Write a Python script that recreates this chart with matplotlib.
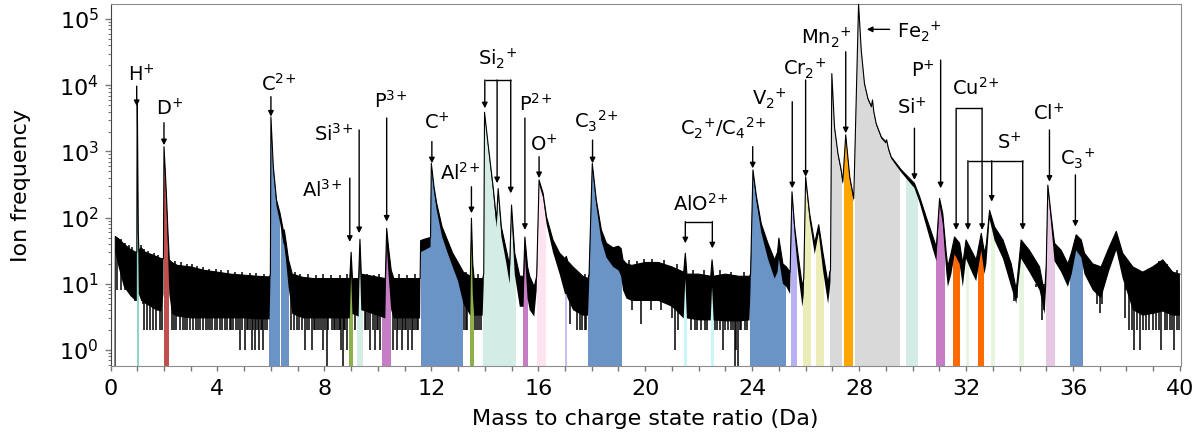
import numpy as np
import matplotlib
matplotlib.use("Agg")
import matplotlib.pyplot as plt
from matplotlib.patches import Polygon
from matplotlib.ticker import LogLocator, MultipleLocator, NullFormatter
from matplotlib.transforms import blended_transform_factory

plt.rcParams["font.family"] = ["DejaVu Sans"]
plt.rcParams["mathtext.fontset"] = "dejavusans"

# ---------------------------------------------------------------------------
# Mass spectrum: mass-to-charge (Da) with the upper and lower edge of the
# noisy count trace (ion counts per bin)
# ---------------------------------------------------------------------------
mass_da = [
    0.17, 0.18, 0.3, 0.5, 0.75, 0.95, 0.985, 0.995, 1.005, 1.02, 1.04, 1.06,
    1.15, 1.3, 1.5, 1.7, 1.9, 1.98, 2.0, 2.05, 2.1, 2.15, 2.2, 2.3, 2.5, 3.0,
    3.5, 4.0, 4.5, 5.0, 5.5, 5.95, 5.98, 6.0, 6.04, 6.09, 6.21, 6.34, 6.46,
    6.5, 6.56, 6.66, 6.8, 7.2, 7.6, 8.0, 8.5, 8.95, 9.0, 9.05, 9.28, 9.33,
    9.38, 10.28, 10.33, 10.4, 10.5, 10.6, 11.0, 11.58, 11.6, 11.8, 11.97,
    12.0, 12.1, 12.2, 12.4, 12.6, 12.8, 13.0, 13.2, 13.46, 13.5, 13.55, 13.6,
    13.92, 13.96, 13.99, 14.12, 14.31, 14.44, 14.5, 14.62, 14.81, 14.93, 15.0,
    15.12, 15.31, 15.45, 15.5, 15.6, 15.68, 15.85, 15.94, 16.03, 16.18, 16.31,
    16.55, 16.8, 17.0, 17.05, 17.1, 17.3, 17.67, 17.86, 17.9, 18.02, 18.17,
    18.36, 18.55, 18.8, 19.0, 19.1, 19.17, 19.3, 19.5, 20.0, 20.5, 21.0,
    21.44, 21.5, 21.56, 22.0, 22.45, 22.5, 22.56, 23.0, 23.5, 23.9, 23.94,
    24.03, 24.16, 24.34, 24.59, 24.84, 24.95, 25.0, 25.15, 25.28, 25.42,
    25.49, 25.59, 25.71, 25.88, 25.93, 26.0, 26.15, 26.34, 26.49, 26.65,
    26.84, 26.9, 26.93, 26.98, 27.08, 27.21, 27.33, 27.39, 27.5, 27.65, 27.8,
    27.98, 28.08, 28.2, 28.33, 28.46, 28.5, 28.55, 28.64, 28.83, 29.0, 29.03,
    29.1, 29.2, 29.39, 29.58, 29.89, 30.07, 30.26, 30.51, 30.76, 30.89, 31.01,
    31.13, 31.26, 31.32, 31.45, 31.57, 31.76, 31.88, 32.0, 32.25, 32.38,
    32.57, 32.69, 32.76, 32.88, 33.07, 33.38, 33.69, 33.88, 34.06, 34.37,
    34.75, 34.94, 35.0, 35.06, 35.19, 35.31, 35.56, 35.81, 35.95, 36.12,
    36.31, 36.43, 36.74, 37.05, 37.36, 37.62, 37.86, 38.24, 38.61, 38.98,
    39.36, 39.73, 40.0,
]
counts_hi = [
    0.3, 52, 48, 40, 33, 30, 30, 6000, 5000, 700, 60, 32,
    35, 30, 28, 26, 24, 24, 1180, 500, 185, 60, 23, 21, 19, 18,
    16, 15, 14, 13.5, 13, 12.7, 14, 3330, 1500, 590, 185, 117, 65,
    65, 45, 23, 14, 12.5, 12, 12, 12, 12, 30, 12, 12, 47,
    14, 12, 69, 35, 16, 12, 12, 12, 45, 48, 50,
    660, 293, 165, 73, 46, 29, 21, 15, 13, 98, 20, 12,
    12, 14, 3900, 1320, 295, 91, 275, 72, 32, 19, 155,
    29, 13, 13, 51, 18, 13, 9, 13, 370, 234, 102,
    46, 29, 24, 26, 22, 18, 13, 12, 14, 660, 186,
    65, 41, 35, 37, 34, 23, 20, 19, 21, 21, 18,
    15, 29, 14, 14, 13, 23, 13, 14, 13, 13, 14,
    525, 209, 81, 41, 23, 30, 49, 20, 18, 15,
    246, 72, 29, 9, 12, 415, 115, 41, 78, 29,
    10, 15, 16, 15000, 2340, 930, 525, 347, 1780, 415, 195,
    170000, 34000, 10700, 6300, 4800, 6000, 4000, 2630, 1660, 1400, 1500,
    1100, 830, 660, 525, 390, 330, 209, 102, 51, 36, 195,
    115, 29, 18, 30, 51, 41, 20, 46, 29, 23,
    58, 29, 40, 129, 72, 46, 20, 8, 46, 32,
    18, 7, 20, 310, 102, 41, 32, 20, 30, 55,
    46, 29, 20, 18, 36, 62, 29, 18, 15, 18,
    23, 15, 14,
]
counts_lo = [
    0.3, 30, 18, 9, 6.5, 5.5, 5.5, 5500, 4500, 550, 30, 7,
    5.5, 5, 4.5, 4, 3.8, 7, 1050, 420, 140, 35, 7, 3.5, 3.2, 3,
    3, 3, 3, 3, 2.9, 2.9, 10, 3100, 1380, 510, 150, 85, 42,
    38, 24, 9, 3.5, 3, 3, 3, 3, 3, 14, 3.5, 3.2, 22,
    4, 3, 40, 14, 4, 3, 3, 3, 30, 33, 36,
    580, 250, 130, 52, 30, 18, 11, 5, 3.3, 60, 7, 3.3,
    3.3, 10, 3650, 1220, 250, 70, 230, 52, 20, 10, 110,
    14, 4.5, 4.5, 28, 6, 4, 3.2, 8, 320, 200, 80,
    30, 14, 7, 7, 6, 4, 3.3, 3.3, 9, 580, 155,
    45, 25, 18, 16, 13, 8, 6, 5.5, 5.5, 5.5, 4.5,
    3, 12, 3, 2.8, 2.8, 9, 2.8, 2.7, 2.7, 2.8, 9,
    460, 175, 60, 24, 12, 15, 24, 10, 9, 7,
    210, 55, 16, 4.5, 7, 360, 90, 28, 58, 16,
    5, 8, 11, 14300, 2200, 860, 480, 315, 1680, 380, 175,
    160000, 32500, 10200, 6000, 4550, 5600, 3800, 2500, 1570, 1320, 1400,
    1040, 780, 610, 480, 340, 280, 170, 75, 33, 22, 160,
    80, 15, 9, 14, 28, 20, 9, 24, 14, 11,
    32, 14, 20, 95, 45, 24, 9, 5, 24, 15,
    8, 3.5, 10, 270, 75, 22, 15, 9, 14, 32,
    25, 14, 8, 6, 16, 32, 12, 4, 3.3, 3.5,
    3.8, 3.3, 3.3,
]

# Single-bin dips below the noise band (counts of the dip; 0.1 = empty bin)
dip_mass = [
    0.62, 0.85, 0.92, 1.2,
    1.25, 1.38, 1.48, 1.6, 1.72, 1.85, 1.91, 2.29, 2.38, 2.46, 2.6, 2.7,
    2.79, 2.88, 2.97, 3.1, 3.2, 3.28, 3.35, 3.47, 3.58, 3.65, 3.72, 3.81,
    3.9, 4.0, 4.09, 4.18, 4.28, 4.37, 4.46, 4.52, 4.59, 4.7, 4.78, 4.84,
    4.92, 5.03, 5.09, 5.16, 5.22, 5.28, 5.34, 5.4, 5.46, 5.5, 5.56, 5.62,
    5.66, 5.71, 5.78, 5.85,
    6.75, 6.85, 6.98, 7.06, 7.17, 7.27, 7.35, 7.42, 7.52, 7.6, 7.66, 7.73,
    7.8, 7.86, 7.96, 8.02, 8.08, 8.15, 8.27, 8.35, 8.41, 8.46, 8.53, 8.58,
    8.64, 8.68, 8.72, 8.78, 8.83, 9.15, 9.51, 9.57, 9.64, 9.7, 9.8, 9.89,
    9.95, 10.02, 10.07, 10.2, 10.39, 10.45, 10.57, 10.64, 10.7, 10.76,
    10.82, 10.89, 10.95, 11.01, 11.07, 11.13, 11.2, 11.26, 11.32, 11.38,
    11.45, 11.51,
    13.22, 13.3, 13.35, 13.64, 13.72, 13.8, 13.87,
    17.2, 17.43, 17.55, 17.62, 17.74, 17.8,
    19.5, 19.86, 20.2, 20.6, 21.0, 21.1, 21.23,
    21.7, 21.85, 21.95, 22.1, 22.22, 22.3, 22.62, 22.7, 22.79, 22.9, 22.97,
    23.1, 23.22, 23.3, 23.35, 23.41, 23.47, 23.55, 23.6, 23.72, 23.8,
    33.8, 33.9, 34.6, 34.85, 34.9, 36.9, 37.0, 37.1,
    37.95, 38.11, 38.2, 38.3, 38.4, 38.49, 38.6, 38.74, 38.85, 38.98, 39.1,
    39.2, 39.3, 39.45, 39.52, 39.61, 39.7, 39.79, 39.9, 39.98,
]
dip_counts = [
    8, 6.5, 5.5, 5,
    2, 2, 2, 2, 2, 2, 2, 2, 2, 2, 2, 2,
    2, 2, 2, 2, 2, 2, 2, 2, 2, 2, 2, 2,
    2, 2, 2, 2, 2, 2, 2, 2, 2, 2, 2, 1,
    2, 1, 2, 2, 2, 1, 2, 1, 2, 2, 1, 2,
    2, 1, 2, 2,
    2, 2, 2, 2, 2, 1, 2, 2, 1, 2, 2, 2,
    2, 2, 1, 2, 0.1, 2, 2, 2, 2, 2, 2, 2,
    1, 0.1, 2, 2, 1, 2, 2, 2, 2, 1, 2, 1,
    2, 2, 1, 2, 2, 2, 1, 2, 1, 2,
    2, 1, 2, 2, 2, 1, 2, 1, 2, 2,
    2, 2,
    2, 2, 2, 2, 2, 2, 2,
    2.5, 2, 2, 2, 2, 2,
    4, 2.5, 4, 4, 3, 1, 2,
    2, 2, 2, 2, 2, 2, 2, 2, 2, 1, 2,
    2, 2, 2, 0.1, 1, 0.1, 2, 2, 2, 2,
    5.5, 6, 9, 2.8, 4, 5, 3.6, 5,
    3, 2, 2, 1, 2, 1, 2, 2, 2, 2, 2,
    2, 1, 2, 2, 2, 2, 1, 2, 2,
]

# Single-bin bursts above the noise band (counts at the top of the burst)
burst_mass = [
    0.25, 0.4, 0.55, 0.68, 0.8, 1.15, 1.27, 1.42, 1.62, 1.78, 2.4, 2.65,
    2.85, 3.05, 3.25, 3.45, 3.7, 3.95, 4.15, 4.4, 4.65, 4.9, 5.2, 5.45, 5.75,
    6.9, 7.1, 7.4, 7.7, 7.95, 8.25, 8.6, 8.85, 9.6, 9.85, 10.05, 10.8, 11.1,
    11.4, 13.3, 13.75, 17.45, 17.75, 19.4, 19.7, 19.95, 20.25, 20.7, 21.2,
    21.8, 22.2, 22.8, 23.2, 23.7, 38.0, 38.4, 38.8, 39.2, 39.5, 39.9,
]
burst_counts = [
    50, 47, 42, 38, 36, 38, 33, 31, 29, 27, 22, 21,
    20, 20, 18.5, 18, 17, 17, 16, 16, 15, 15, 14.5, 14.5, 14,
    15, 14, 14, 13.5, 14, 13.5, 13.5, 14, 14, 13.5, 14, 14, 13.5,
    14, 15, 14, 15, 14, 23, 22, 24, 24, 23, 20,
    16, 16, 16, 15, 15, 20, 17, 17, 22, 20, 16,
]

# Ranged windows (Da) and the ion each window is assigned to
range_start = [0.98, 2.0, 5.93, 6.36, 8.92, 9.23, 10.14, 11.6, 13.44, 13.94,
               15.43, 15.94, 17.0, 17.86, 21.45, 22.45, 23.93, 25.44, 25.91,
               26.4, 26.9, 27.42, 27.86, 29.74, 30.89, 31.51, 32.44, 31.98,
               32.92, 33.97, 35.0, 35.87]
range_end = [1.06, 2.2, 6.33, 6.66, 9.08, 9.43, 10.51, 13.17, 13.59, 15.16,
             15.63, 16.28, 17.06, 19.15, 21.58, 22.57, 25.28, 25.66, 26.21,
             26.68, 27.37, 27.79, 29.53, 30.22, 31.23, 31.78, 32.67, 32.1,
             33.09, 34.16, 35.31, 36.39]
range_ion = ["H", "D", "C", "C", "Al", "Si", "P", "C", "Al", "Si",
             "P", "O", "N", "C", "AlO", "AlO", "C", "V", "Cr",
             "Cr", "Fe", "Mn", "Fe", "Si", "P", "Cu", "Cu", "S",
             "S", "S", "Cl", "C"]

ion_colors = {
    "H": "#8fd6c6", "D": "#c0504d", "C": "#6a93c6", "Al": "#8db04a",
    "Si": "#d3ede6", "P": "#c77dc5", "O": "#fde4f0", "N": "#c8c0f0",
    "AlO": "#c8f7f7", "V": "#b8b0f5", "Cr": "#ececb8", "Fe": "#d9d9d9",
    "Mn": "#ffa500", "Cu": "#ff6a00", "S": "#e6f4e0", "Cl": "#e6c8e4",
}

x_ticks = [0, 4, 8, 12, 16, 20, 24, 28, 32, 36, 40]

# ---------------------------------------------------------------------------
# Figure
# ---------------------------------------------------------------------------
W, H = 1202, 437
fig = plt.figure(figsize=(W / 100, H / 100), dpi=100)
ax = fig.add_axes([110.5 / W, 1 - 366 / H, 1070.5 / W, 362 / H])
ax.set_yscale("log")
ax.set_xlim(0, 40.04)
ax.set_ylim(0.573, 1.69e5)

m = np.asarray(mass_da)
hi = np.asarray(counts_hi, dtype=float)
lo = np.asarray(counts_lo, dtype=float)

# single-bin dips underneath everything
ax.vlines(dip_mass, dip_counts, 10, color="black", lw=1.1, zorder=1)

# area under the trace, used to clip the ranged windows
under = Polygon(np.column_stack([np.r_[m[0], m, m[-1]],
                                 np.r_[0.01, hi, 0.01]]),
                closed=True, transform=ax.transData)
for a, b, ion in zip(range_start, range_end, range_ion):
    span = ax.axvspan(a, b, color=ion_colors[ion], lw=0, zorder=2)
    span.set_clip_path(under)

# noise band, bursts and trace outline
ax.fill(np.r_[m, m[::-1]], np.r_[hi, lo[::-1]], color="black", lw=0,
        zorder=3)
ax.vlines(burst_mass, 8, burst_counts, color="black", lw=1.1, zorder=3)
ax.plot(m, hi, color="black", lw=0.8, zorder=3)

# ---------------------------------------------------------------------------
# Axes styling
# ---------------------------------------------------------------------------
ax.set_xticks(x_ticks)
ax.xaxis.set_minor_locator(MultipleLocator(1))
ax.yaxis.set_major_locator(LogLocator(base=10, numticks=12))
ax.yaxis.set_minor_locator(LogLocator(base=10, subs=np.arange(2, 10),
                                      numticks=12))
ax.yaxis.set_minor_formatter(NullFormatter())
ax.tick_params(axis="x", which="both", direction="out", length=3.5,
               width=1, color="#777777", labelsize=16, pad=6)
ax.tick_params(axis="y", which="major", direction="out", length=4.5,
               width=1, color="#777777", labelsize=16, pad=4)
ax.tick_params(axis="y", which="minor", direction="out", length=2.5,
               width=0.8, color="#777777")
for side in ("top", "right", "bottom"):
    ax.spines[side].set_color("#8c8c8c")
ax.spines["left"].set_color("#444444")

ax.set_xlabel("Mass to charge state ratio (Da)", fontsize=16)
ax.set_ylabel("Ion frequency", fontsize=16)
ax.xaxis.set_label_coords(0.5, -0.118)
ax.yaxis.set_label_coords(-0.074, 0.5)

# ---------------------------------------------------------------------------
# Peak labels: x in Da, y as a fraction of the axes height
# ---------------------------------------------------------------------------
tr = blended_transform_factory(ax.transData, ax.transAxes)
arrow_kw = dict(arrowstyle="-|>", color="black", lw=1.0,
                mutation_scale=8, shrinkA=0, shrinkB=0)

peak_labels = [
    ("H$^{+}$", 1.16, 0.804, [(0.98, 0.773, 0.718)], None),
    ("D$^{+}$", 2.22, 0.711, [(2.0, 0.672, 0.610)], None),
    ("C$^{2}$$^{+}$", 6.28, 0.779, [(6.0, 0.744, 0.689)], None),
    ("Al$^{3}$$^{+}$", 7.9, 0.486, [(8.95, 0.519, 0.343)], None),
    ("Si$^{3}$$^{+}$", 8.36, 0.641, [(9.3, 0.652, 0.367)], None),
    ("P$^{3}$$^{+}$", 10.47, 0.732, [(10.33, 0.685, 0.399)], None),
    ("C$^{+}$", 12.2, 0.673, [(12.02, 0.620, 0.560)], None),
    ("Al$^{2}$$^{+}$", 13.07, 0.533, [(13.5, 0.495, 0.422)], None),
    ("Si$_{2}$$^{+}$", 14.49, 0.848,
     [(14.0, 0.790, 0.712), (14.46, 0.790, 0.505), (14.97, 0.790, 0.477)],
     0.790),
    ("P$^{2}$$^{+}$", 15.9, 0.725, [(15.5, 0.685, 0.376)], None),
    ("O$^{+}$", 16.19, 0.610, [(16.03, 0.578, 0.519)], None),
    ("C$_{3}$$^{2}$$^{+}$", 18.19, 0.677, [(18.03, 0.624, 0.560)], None),
    ("AlO$^{2}$$^{+}$", 22.07, 0.448,
     [(21.5, 0.399, 0.339), (22.51, 0.399, 0.325)], 0.399),
    ("C$_{2}$$^{+}$/C$_{4}$$^{2}$$^{+}$", 22.9, 0.655,
     [(24.02, 0.606, 0.546)], None),
    ("V$_{2}$$^{+}$", 24.65, 0.738, [(25.5, 0.730, 0.491)], None),
    ("Cr$_{2}$$^{+}$", 25.98, 0.820, [(26.0, 0.790, 0.523)], None),
    ("Mn$_{2}$$^{+}$", 26.79, 0.907, [(27.5, 0.868, 0.643)], None),
    ("P$^{+}$", 30.39, 0.815, [(31.05, 0.845, 0.491)], None),
    ("Si$^{+}$", 29.97, 0.713, [(30.07, 0.657, 0.514)], None),
    ("Cu$^{2}$$^{+}$", 32.38, 0.768,
     [(31.63, 0.712, 0.376), (32.6, 0.712, 0.376)], 0.712),
    ("S$^{+}$", 33.63, 0.617,
     [(32.07, 0.567, 0.376), (32.96, 0.567, 0.454), (34.12, 0.567, 0.376)],
     0.567),
    ("Cl$^{+}$", 35.1, 0.696, [(35.12, 0.652, 0.509)], None),
    ("C$_{3}$$^{+}$", 36.18, 0.572, [(36.09, 0.528, 0.385)], None),
]

for text, tx, ty, arrows, bar in peak_labels:
    ax.text(tx, ty, text, transform=tr, ha="center", va="center",
            fontsize=14, zorder=5)
    for x, y0, y1 in arrows:
        ax.annotate("", xy=(x, y1), xytext=(x, y0), xycoords=tr,
                    textcoords=tr, arrowprops=arrow_kw, zorder=5)
    if bar is not None:
        xs = [a[0] for a in arrows]
        ax.plot([min(xs), max(xs)], [bar, bar], color="black", lw=1.0,
                transform=tr, zorder=5, solid_capstyle="butt")

# Fe2+ label with a horizontal pointer to the main peak
ax.text(30.26, 0.924, "Fe$_{2}$$^{+}$", transform=tr, ha="center",
        va="center", fontsize=14, zorder=5)
ax.annotate("", xy=(28.29, 0.930), xytext=(29.14, 0.930), xycoords=tr,
            textcoords=tr, arrowprops=arrow_kw, zorder=5)

fig.savefig("out.png", dpi=100)
